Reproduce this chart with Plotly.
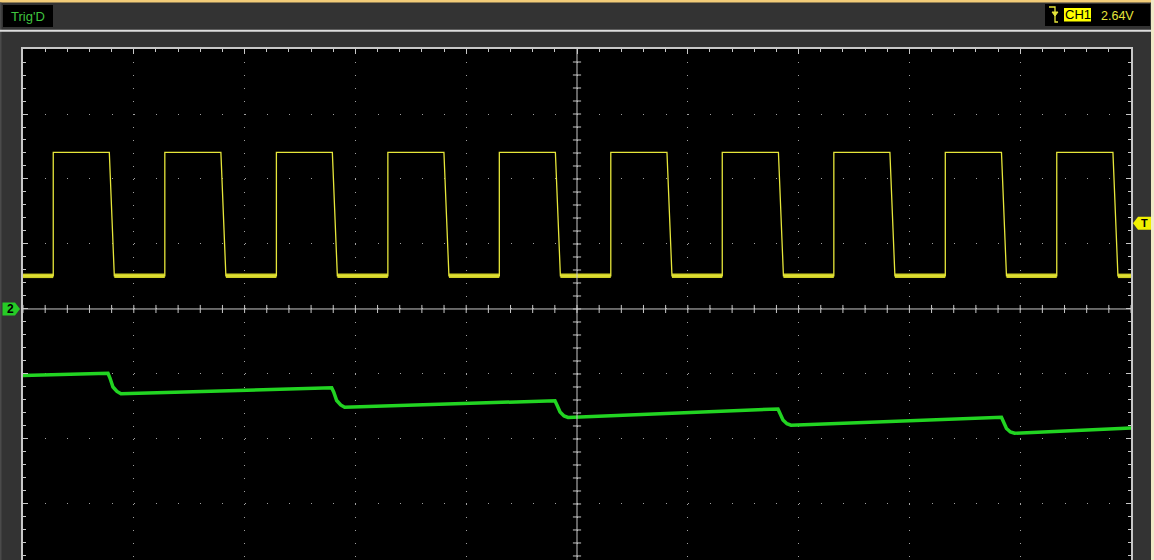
import plotly.graph_objects as go

# screen is 10 x 8 divisions, bottom of the graticule is cut off in the screenshot
x_range = [-5, 5]
y_range = [-3.862, 4]

# CH1 (yellow) square wave, values in divisions
ch1_high = 2.41
ch1_low = 0.51
ch1_rise = [-4.727, -3.720, -2.713, -1.707, -0.701, 0.305, 1.311, 2.318, 3.324, 4.330]
ch1_fall = [-4.221, -3.214, -2.208, -1.201, -0.195, 0.812, 1.818, 2.824, 3.831, 4.837]
ch1_fall_len = 0.045

# CH2 (green) staircase, values in divisions
ch2_x = [-5.000, -4.666, -4.233, -4.215, -4.188, -4.152, -4.116,
         -2.214, -2.196, -2.169, -2.133, -2.097,
         -0.199, -0.181, -0.153, -0.117, -0.081,
         1.814, 1.832, 1.859, 1.895, 1.931,
         3.831, 3.849, 3.876, 3.912, 3.949, 5.000]
ch2_y = [-1.023, -1.008, -0.989, -1.062, -1.200, -1.269, -1.305,
         -1.211, -1.277, -1.408, -1.477, -1.512,
         -1.411, -1.477, -1.585, -1.646, -1.669,
         -1.538, -1.600, -1.708, -1.766, -1.788,
         -1.666, -1.731, -1.838, -1.892, -1.912, -1.831]

ch2_ground = 0.0
trig_level = 1.32
trig_text = "2.64V"

W, H = 1154, 560
ML, MR, MT, MB = 23, 23, 49, 0


def px(x):
    return (x - ML) / (W - ML - MR)


def py(y):
    return (H - MB - y) / (H - MT - MB)


# build yellow trace
yx, yy = [x_range[0]], [ch1_low]
for r, f in zip(ch1_rise, ch1_fall):
    yx += [r, r, f, f + ch1_fall_len]
    yy += [ch1_low, ch1_high, ch1_high, ch1_low]
yx.append(x_range[1])
yy.append(ch1_low)

# noisy low level drawn as a thicker band
lx, ly = [], []
starts = [x_range[0]] + [f + ch1_fall_len for f in ch1_fall]
ends = ch1_rise + [x_range[1]]
for a, b in zip(starts, ends):
    lx += [a, b, None]
    ly += [ch1_low, ch1_low, None]

fig = go.Figure()
fig.add_trace(go.Scatter(x=lx, y=ly, mode="lines", line=dict(color="#cfcf26", width=4.5),
                         hoverinfo="skip", showlegend=False))
fig.add_trace(go.Scatter(x=yx, y=yy, mode="lines", line=dict(color="#e6e63a", width=1.3),
                         name="CH1", showlegend=False))
fig.add_trace(go.Scatter(x=ch2_x, y=ch2_y, mode="lines", line=dict(color="#22d422", width=3.5),
                         name="CH2", showlegend=False))

shapes = []
grat = "#c8c8c8"
# centre cross with sub-division ticks
shapes.append(dict(type="line", xref="x", yref="paper", x0=0, x1=0, y0=0, y1=1,
                   line=dict(color=grat, width=1)))
shapes.append(dict(type="line", xref="x", yref="y", x0=-5, x1=5, y0=0, y1=0,
                   line=dict(color=grat, width=1)))
for k in range(-25, 26):
    t = k * 0.2
    shapes.append(dict(type="line", xref="x", yref="y", x0=t, x1=t, y0=-0.062, y1=0.062,
                       line=dict(color=grat, width=1)))
for k in range(-19, 20):
    t = k * 0.2
    shapes.append(dict(type="line", xref="x", yref="y", x0=-0.037, x1=0.037, y0=t, y1=t,
                       line=dict(color=grat, width=1)))

# window chrome
shapes.append(dict(type="rect", xref="paper", yref="paper", x0=px(0), x1=px(W), y0=py(0), y1=py(2.5),
                   line=dict(width=0), fillcolor="#f2cc78", layer="below"))
shapes.append(dict(type="rect", xref="paper", yref="paper", x0=px(1151), x1=px(W), y0=py(0), y1=py(H),
                   line=dict(width=0), fillcolor="#efe9c8", layer="below"))
shapes.append(dict(type="rect", xref="paper", yref="paper", x0=px(0), x1=px(1.5), y0=py(2.5), y1=py(H),
                   line=dict(width=0), fillcolor="#4a4a4a", layer="below"))
shapes.append(dict(type="line", xref="paper", yref="paper", x0=px(0), x1=px(1151), y0=py(30.8), y1=py(30.8),
                   line=dict(color="#dedede", width=2)))
# Trig'D box
shapes.append(dict(type="rect", xref="paper", yref="paper", x0=px(3), x1=px(53), y0=py(5), y1=py(27),
                   line=dict(width=0), fillcolor="#000000"))
# trigger info box
shapes.append(dict(type="rect", xref="paper", yref="paper", x0=px(1045), x1=px(1150), y0=py(4), y1=py(26),
                   line=dict(width=0), fillcolor="#000000"))
shapes.append(dict(type="rect", xref="paper", yref="paper", x0=px(1064), x1=px(1091), y0=py(8), y1=py(21.5),
                   line=dict(width=0), fillcolor="#ffff00"))
edge = "M{},{} L{},{} L{},{} L{},{}".format(px(1049), py(7), px(1055), py(7), px(1055), py(22),
                                          px(1058), py(22))
shapes.append(dict(type="path", xref="paper", yref="paper", path=edge,
                   line=dict(color="#e6e63a", width=1.3)))
arrow = "M{},{} L{},{} L{},{} Z".format(px(1052), py(12), px(1058), py(12), px(1055), py(16))
shapes.append(dict(type="path", xref="paper", yref="paper", path=arrow,
                   line=dict(color="#e6e63a", width=1), fillcolor="#e6e63a"))

# channel 2 ground marker and trigger level marker
g = 309 - ch2_ground * 65
m2 = "M{},{} L{},{} L{},{} L{},{} L{},{} Z".format(px(2.5), py(g - 6.5), px(15), py(g - 6.5), px(20), py(g),
                                                   px(15), py(g + 6.5), px(2.5), py(g + 6.5))
shapes.append(dict(type="path", xref="paper", yref="paper", path=m2,
                   line=dict(width=0), fillcolor="#26cc26"))
tl = 309 - trig_level * 65
mt = "M{},{} L{},{} L{},{} L{},{} L{},{} Z".format(px(1133), py(tl), px(1138), py(tl - 6.5), px(1151), py(tl - 6.5),
                                                   px(1151), py(tl + 6.5), px(1138), py(tl + 6.5))
shapes.append(dict(type="path", xref="paper", yref="paper", path=mt,
                   line=dict(width=0), fillcolor="#f0f000"))

font = "Liberation Sans, Arial, sans-serif"


def label(text, x, y, size, color):
    return dict(text=text, x=px(x), y=py(y), xref="paper", yref="paper", showarrow=False,
                xanchor="center", yanchor="middle", font=dict(family=font, size=size, color=color))


annotations = [
    label("Trig'D", 28, 16.5, 13, "#3fc43f"),
    label("CH1", 1077.5, 15, 13, "#000000"),
    label(trig_text, 1117, 15.5, 12.5, "#e6e63a"),
    label("<b>2</b>", 10.5, g, 12, "#000000"),
    label("<b>T</b>", 1144, tl, 11, "#000000"),
]

fig.update_layout(
    width=W, height=H,
    margin=dict(l=ML, r=MR, t=MT, b=MB, pad=0),
    paper_bgcolor="#333333",
    plot_bgcolor="#000000",
    shapes=shapes,
    annotations=annotations,
    hovermode=False,
)
fig.update_xaxes(range=x_range, side="top", showline=True, linecolor=grat, linewidth=2,
                 ticks="inside", tick0=0, dtick=1, ticklen=5, tickcolor=grat, showticklabels=False,
                 showgrid=True, gridcolor="#a0a0a0", gridwidth=1, griddash="1px,12px", zeroline=False,
                 minor=dict(ticks="inside", dtick=0.2, ticklen=3, tickcolor=grat, showgrid=False),
                 fixedrange=True)
fig.update_yaxes(range=y_range, showline=True, linecolor=grat, linewidth=2, mirror="ticks",
                 ticks="inside", tick0=0, dtick=1, ticklen=5, tickcolor=grat, showticklabels=False,
                 showgrid=True, gridcolor="#a0a0a0", gridwidth=1, griddash="1px,21.16px", zeroline=False,
                 minor=dict(ticks="inside", dtick=0.2, ticklen=3, tickcolor=grat, showgrid=False),
                 fixedrange=True)

fig.write_html("out.html", config={"displayModeBar": False},
               post_script="document.body.style.margin='0';document.body.style.overflow='hidden';")
